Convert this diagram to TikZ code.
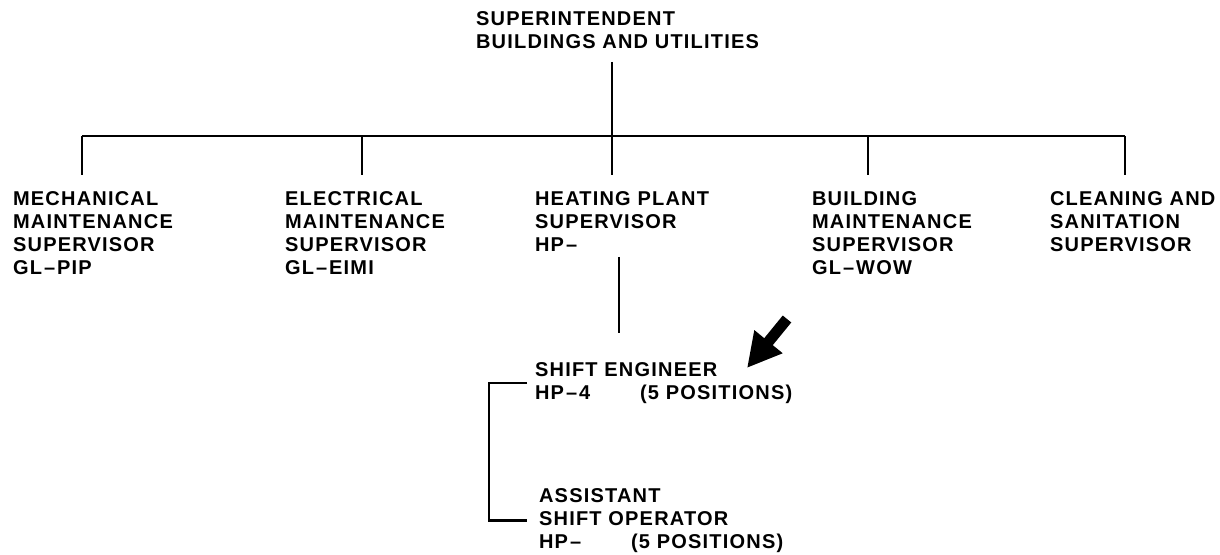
\documentclass[tikz,border=0pt]{standalone}
\usepackage{fontspec}
\newfontfamily\chartfont[LetterSpace=6]{Liberation Sans}
\usetikzlibrary{arrows.meta}

\newcommand\grade{\kern1pt–\kern1pt}

\begin{document}
\begin{tikzpicture}[x = 0.5pt, y = -0.5pt, line width = 1.1pt,
	post/.style = {anchor = north west, inner sep = 0, align = left,
		font = \chartfont\bfseries\fontsize{10}{11.65}\selectfont}]

	\useasboundingbox (0, 0) rectangle (1220, 555);

	% The superintendent

	\node [post] (super) at (475, 10) {SUPERINTENDENT\\BUILDINGS AND UTILITIES};

	% Five supervisors

	\node [post] (mech) at (12, 190) {MECHANICAL\\MAINTENANCE\\SUPERVISOR\\GL\grade PIP};
	\node [post] (elec) at (284, 190) {ELECTRICAL\\MAINTENANCE\\SUPERVISOR\\GL\grade EIMI};
	\node [post] (heat) at (534, 190) {HEATING PLANT\\SUPERVISOR\\HP\grade};
	\node [post] (bldg) at (811, 190) {BUILDING\\MAINTENANCE\\SUPERVISOR\\GL\grade WOW};
	\node [post] (clean) at (1049, 190) {CLEANING AND\\SANITATION\\SUPERVISOR};

	% Shift staff under the heating plant

	\node [post] (shift) at (534, 361)
		{SHIFT ENGINEER\\\makebox[52.5pt][l]{HP\grade 4}(5 POSITIONS)};
	\node [post] (assist) at (538, 487)
		{ASSISTANT\\SHIFT OPERATOR\\\makebox[46pt][l]{HP\grade}(5 POSITIONS)};

	% Top line and bar

	\coordinate (top) at (612, 62);
	\coordinate (hub) at (612, 136);
	\draw (top) -- (hub);

	\foreach \n/\x in {mech/82, elec/362, heat/612, bldg/868, clean/1125} {
		\coordinate (\n-in) at (\x, 175);
		\draw (\n-in) -- (\n-in |- hub);
	}
	\draw (mech-in |- hub) -- (clean-in |- hub);

	% Heating plant down to the shifts + bracket

	\coordinate (heat-out) at (619, 257);
	\coordinate (shift-in) at (619, 333);
	\draw (heat-out) -- (shift-in);

	\draw ([xshift = -3.5pt] shift.west) -- ++ (-19pt, 0) |- ([xshift = -5.5pt] assist.west);

	% The pointer

	\coordinate (tail) at (787, 319);
	\coordinate (tip) at (747, 368);
	\draw [line width = 5.5pt, -{Triangle[width = 17pt, length = 17pt]}] (tail) -- (tip);

\end{tikzpicture}
\end{document}
